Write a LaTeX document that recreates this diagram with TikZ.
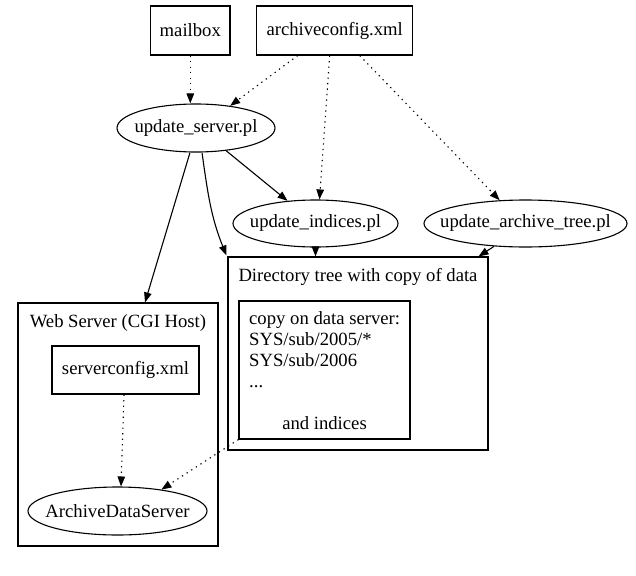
\documentclass[tikz,border=0pt]{standalone}
\usepackage{fontspec}
\setmainfont{Liberation Serif}
\usetikzlibrary{arrows.meta,shapes.geometric}
\begin{document}
\begin{tikzpicture}[x=1pt,y=1pt,
  every node/.style={font=\fontsize{18.67pt}{21pt}\selectfont, inner sep=0pt},
  box/.style={draw, rectangle, line width=1.1pt},
  oval/.style={draw, ellipse, line width=1.1pt},
  cluster/.style={draw, rectangle, line width=1.1pt},
  edgeln/.style={line width=1.1pt, -{Triangle[length=10pt,width=7.5pt]}},
  dep/.style={edgeln, dash pattern=on 1.3pt off 4.2pt}]
\useasboundingbox (0,0) rectangle (636,-575);

% top boxes
\node[box, minimum width=79.3pt, minimum height=49pt] (mb) at (190.3,-30.5) {mailbox};
\node[box, minimum width=156pt, minimum height=49pt] (ac) at (334.7,-30.5) {archiveconfig.xml};

% scripts
\node[oval, minimum width=158pt, minimum height=48pt] (us) at (196,-128) {\makebox[0pt]{update\_server.pl}};
\node[oval, minimum width=165pt, minimum height=47pt] (ui) at (315.5,-223.5) {\makebox[0pt]{update\_indices.pl}};
\node[oval, minimum width=203pt, minimum height=47pt] (uat) at (525.5,-223.5) {\makebox[0pt]{update\_archive\_tree.pl}};

% directory tree cluster
\node[cluster, minimum width=260pt, minimum height=193pt] (dir) at (358,-353.5) {};
\node[anchor=base] (dirtitle) at (358,-281) {Directory tree with copy of data};
\node[box, minimum width=171pt, minimum height=138pt] (inner) at (324.5,-370) {};
\node[anchor=north west, align=left] (innertxt) at (249,-311.3)
  {copy on data server:\\SYS/sub/2005/*\\SYS/sub/2006\\...};
\node[anchor=base] (andidx) at (324.5,-429.5) {and indices};

% web server cluster
\node[cluster, minimum width=200pt, minimum height=243pt] (web) at (118,-424.5) {};
\node[anchor=base] (webtitle) at (118,-327) {Web Server (CGI Host)};
\node[box, minimum width=147pt, minimum height=48pt] (sc) at (125.5,-370) {serverconfig.xml};
\node[oval, minimum width=179pt, minimum height=48pt] (ads) at (117.5,-511) {\makebox[0pt]{ArchiveDataServer}};

% dotted dependencies
\draw[dep] (mb.south) -- (mb.south |- us.north);
\draw[dep] ([xshift=-37pt]ac.south) -- (us.33);
\draw[dep] ([xshift=-5pt]ac.south) -- ([xshift=4pt]ui.north);
\draw[dep] ([xshift=25pt]ac.south) -- (uat.138);
\draw[dep] ([xshift=-1.5pt]sc.south) -- ([xshift=3.5pt]ads.north);
\draw[dep] (inner.south west) -- (ads.26);

% solid edges
\draw[edgeln] (us.-37) -- (ui.141);
\draw[edgeln] ([xshift=6pt]us.south) to[out=-82,in=112] ([xshift=-1pt,yshift=1pt]dir.north west);
\draw[edgeln] ([xshift=-6pt]us.south) -- ([xshift=27pt]web.north);
\draw[edgeln] (ui.south) -- (ui.south |- dir.north);
\draw[edgeln] (uat.216) -- ([xshift=-10pt]dir.north east);
\end{tikzpicture}
\end{document}
